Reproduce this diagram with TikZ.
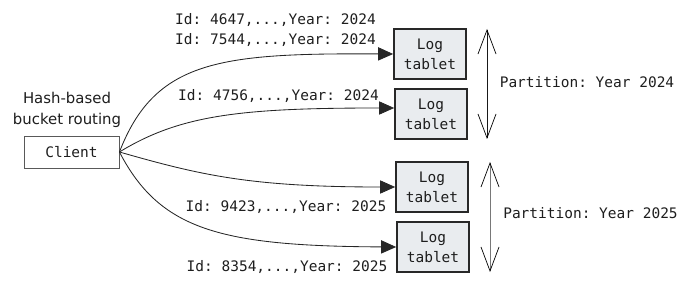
\documentclass[tikz,border=0pt]{standalone}
\usepackage{fontspec}
\setmainfont{DejaVu Sans}
\setmonofont{DejaVu Sans Mono}
\usepackage{xcolor}
\definecolor{tbfill}{RGB}{233,236,239}
\definecolor{tbedge}{RGB}{40,40,40}
\definecolor{txtdark}{RGB}{30,30,30}
\definecolor{spangray}{RGB}{120,120,120}
\usetikzlibrary{arrows.meta, positioning}

\begin{document}
\begin{tikzpicture}[x=0.025cm, y=-0.025cm,
  mono/.style={font=\fontsize{10.3}{14.2}\selectfont\ttfamily, text=txtdark, inner sep=0pt},
  tablet/.style={mono, draw=tbedge, line width=1.2pt, fill=tbfill, align=center,
                 minimum width=1.8cm, minimum height=1.25cm},
  route/.style={-{Triangle[length=0.375cm, width=0.33cm]}, black!85, line width=0.6pt},
  span/.style={{Straight Barb[length=0.6cm, width=0.45cm, color=black, line width=0.5pt]}-{Straight Barb[length=0.6cm, width=0.45cm, color=black, line width=0.5pt]}, line width=0.6pt}]

\useasboundingbox (0,0) rectangle (688,287);

% --- Client side ---
\node[mono, draw=black!65, line width=0.6pt, minimum width=2.375cm, minimum height=0.8cm]
      (client) at (71.5,152) {Client};
\node[font=\fontsize{10.6}{14.6}\selectfont, text=txtdark, align=center, inner sep=0pt]
      (routing) at (67,110) {Hash-based\\bucket routing};

% --- Log tablets ---
\node[tablet] (log1) at (430,54) {Log\\tablet};
\node[tablet] (log2) at (431,114) {Log\\tablet};
\node[tablet] (log3) at (432,187) {Log\\tablet};
\node[tablet] (log4) at (433,247) {Log\\tablet};

% --- Routed records ---
\draw[route] (client.east) .. controls (155,60) and (220,53) .. (log1.west);
\draw[route] (client.east) .. controls (180,115) and (240,108) .. ([yshift=0.15cm]log2.west);
\draw[route] (client.east) .. controls (200,175) and (250,187) .. (log3.west);
\draw[route] (client.east) .. controls (160,230) and (220,246) .. (log4.west);

\node[mono] (rec1) at (275.5,20) {Id: 4647,...,Year: 2024};
\node[mono] (rec2) at (275.5,40) {Id: 7544,...,Year: 2024};
\node[mono] (rec3) at (278.5,96) {Id: 4756,...,Year: 2024};
\node[mono] (rec4) at (286,207) {Id: 9423,...,Year: 2025};
\node[mono] (rec5) at (287,267) {Id: 8354,...,Year: 2025};

% --- Partitions ---
\coordinate (p24top) at (487,29);
\coordinate (p24bot) at (487,139);
\coordinate (p25top) at (490,162);
\coordinate (p25bot) at (490,272);
\draw[span, black!90] (p24top) -- (p24bot);
\draw[span, spangray] (p25top) -- (p25bot);
\node[mono] (part24) at (587,82) {Partition: Year 2024};
\node[mono] (part25) at (590.5,213) {Partition: Year 2025};

\end{tikzpicture}
\end{document}
